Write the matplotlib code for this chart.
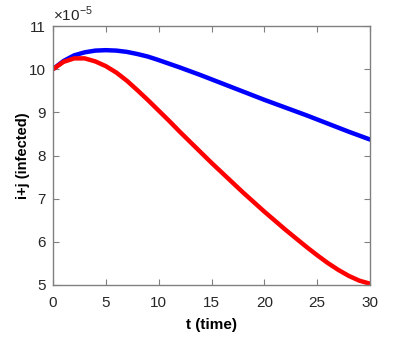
import numpy as np
import matplotlib.pyplot as plt

plt.rcParams.update({
    "font.family": ["Liberation Sans", "DejaVu Sans"],
    "mathtext.fontset": "custom",
    "mathtext.rm": "Liberation Sans",
})

# values in units of 1e-5
t_blue = [0, 1, 2, 3, 4, 5, 6, 7, 8, 9, 10, 12, 14, 16, 18, 20, 22, 24, 26, 28, 30]
blue = [10.00, 10.19, 10.32, 10.39, 10.43, 10.44, 10.43, 10.40, 10.35, 10.29,
        10.21, 10.04, 9.86, 9.67, 9.48, 9.29, 9.11, 8.93, 8.74, 8.55, 8.37]

t_red = list(range(0, 31))
red = [10.00, 10.17, 10.25, 10.25, 10.18, 10.07, 9.92, 9.73, 9.51, 9.28,
       9.04, 8.80, 8.55, 8.31, 8.07, 7.83, 7.60, 7.37, 7.14, 6.92,
       6.70, 6.49, 6.28, 6.08, 5.88, 5.69, 5.51, 5.35, 5.21, 5.10, 5.03]

xticks = [0, 5, 10, 15, 20, 25, 30]
yticks = [5, 6, 7, 8, 9, 10, 11]

fig = plt.figure(figsize=(4.09, 3.54), dpi=100)
ax = fig.add_axes([53 / 409, 1 - 285 / 354, 317 / 409, 259 / 354])

ax.plot(t_blue, blue, color="#0000ff", lw=3.2, solid_capstyle="round")
ax.plot(t_red, red, color="#ff0000", lw=3.2, solid_capstyle="round")

ax.set_xlim(0, 30)
ax.set_ylim(5, 11)
ax.set_xticks(xticks)
ax.set_yticks(yticks)

gray = "#808080"
for s in ax.spines.values():
    s.set_color(gray)
    s.set_linewidth(1.0)
ax.tick_params(which="both", direction="in", top=True, right=True,
               length=4, color=gray, labelsize=11, labelcolor="#262626")
ax.tick_params(axis="x", pad=8)
ax.tick_params(axis="y", pad=5)

ax.set_xlabel("t (time)", fontsize=11, fontweight="bold", labelpad=6)
ax.set_ylabel("i+j (infected)", fontsize=10.5, fontweight="bold", labelpad=-1)
ax.text(0.0, 1.018, r"$\times$10$^{\mathrm{-5}}$", transform=ax.transAxes,
        fontsize=11, color="#262626", ha="left", va="baseline")

plt.savefig("out.png", dpi=100)
